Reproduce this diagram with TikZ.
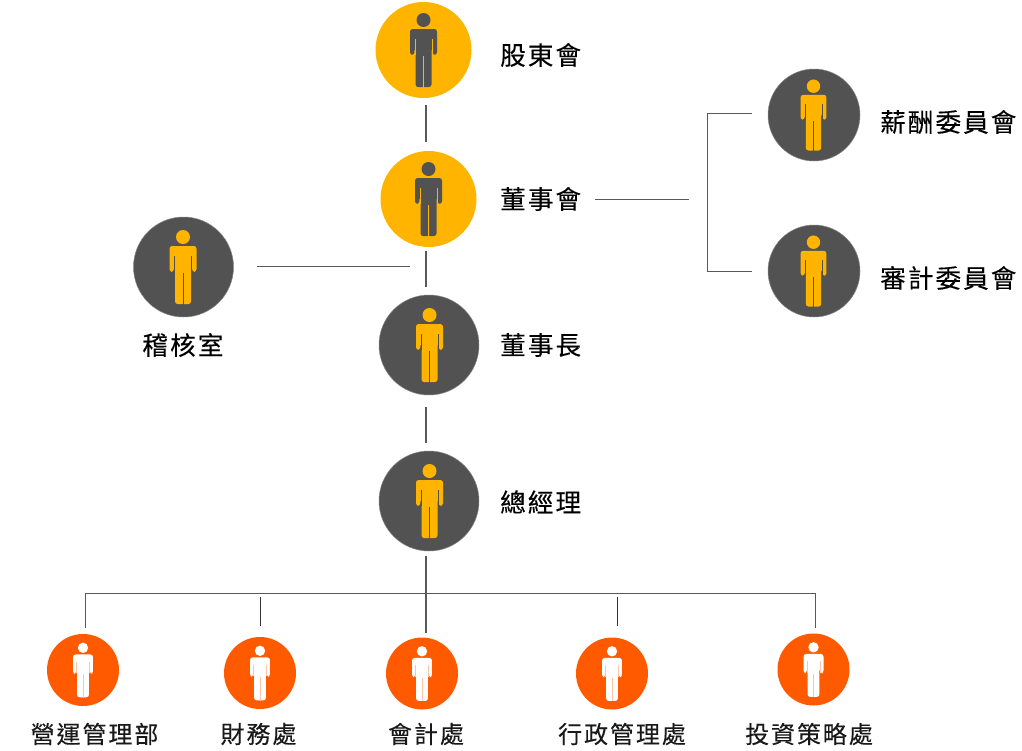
\documentclass[tikz,border=0pt]{standalone}
\usepackage{fontspec}
\newfontfamily\cjkbig[LetterSpace=8,FakeBold=0.25]{Noto Sans CJK TC}
\newfontfamily\cjksmall[LetterSpace=8,FakeBold=0.2]{Noto Sans CJK TC}
\definecolor{amberc}{HTML}{FFB500}
\definecolor{darkc}{HTML}{525252}
\definecolor{orangec}{HTML}{FF5A00}
\definecolor{linec}{HTML}{595959}
\tikzset{
  x=1pt,y=-1pt,
  disc/.style={circle,inner sep=0pt,minimum size=#1},
  amberdisc/.style={disc=#1,fill=amberc},
  darkdisc/.style={disc=#1,fill=darkc,draw=darkc!70!white,line width=0.5pt},
  orangedisc/.style={disc=#1,fill=orangec},
  biglabel/.style={inner sep=0pt,font=\cjkbig\fontsize{25.6}{26}\selectfont,text=black},
  smalllabel/.style={inner sep=0pt,font=\cjksmall\fontsize{24}{24}\selectfont,text=black!90},
  conn/.style={draw=linec,line width=1.2pt},
  connthin/.style={draw=black!80,line width=1pt},
  connfaint/.style={draw=linec,line width=0.9pt},
}
% person figure: #1 centre, #2 scale (1 = disc radius 48), #3 colour, #4 gap colour
\newcommand{\personfig}[4]{%
  \begin{scope}[shift={(#1)},scale=#2]
    \fill[#3] (0,-30) circle[radius=7];
    \fill[#3,rounded corners=2.6pt] (-13.5,4.8) -- (-13.5,-21) -- (13.5,-21) -- (13.5,4.8) -- (9.2,4.8) -- (9,-2) -- (8,-2)
       -- (8,37) -- (-8,37) -- (-8,-2) -- (-9,-2) -- (-9.2,4.8) -- cycle;
    \draw[#4,line width=0.7pt] (0,6) -- (0,37.5);
    \draw[#4,line width=0.6pt] (-8.7,-11) -- (-8.7,4.5);
    \draw[#4,line width=0.6pt] (8.7,-11) -- (8.7,4.5);
  \end{scope}}
\begin{document}
\begin{tikzpicture}
\useasboundingbox (0,0) rectangle (1022,750);
% discs
\node[amberdisc=96] (gudong) at (423.5,50) {};
\node[amberdisc=96] (dongshihui) at (428.5,199) {};
\node[darkdisc=100] (dongshizhang) at (429,345) {};
\node[darkdisc=100] (zongjingli) at (429,501) {};
\node[darkdisc=100] (jihe) at (183.5,267) {};
\node[darkdisc=92] (xinchou) at (814,115) {};
\node[darkdisc=92] (shenji) at (814,271) {};
\node[orangedisc=72] (yingyun) at (83,670) {};
\node[orangedisc=72] (caiwu) at (260,673) {};
\node[orangedisc=72] (kuaiji) at (422,673.5) {};
\node[orangedisc=72] (xingzheng) at (612,673.5) {};
\node[orangedisc=72] (touzi) at (813.5,669.5) {};
% figures
\personfig{423.5,50}{1}{darkc}{amberc}
\personfig{428.5,199}{1}{darkc}{amberc}
\personfig{429.5,345}{1}{amberc}{darkc}
\personfig{429.5,501}{1}{amberc}{darkc}
\personfig{183,267}{1}{amberc}{darkc}
\personfig{813.5,115}{0.96}{amberc}{darkc}
\personfig{813.5,271}{0.96}{amberc}{darkc}
\personfig{83,670}{0.74}{white}{orangec!35!white}
\personfig{260,673}{0.74}{white}{orangec!35!white}
\personfig{422,673.5}{0.74}{white}{orangec!35!white}
\personfig{612,673.5}{0.74}{white}{orangec!35!white}
\personfig{813.5,669.5}{0.74}{white}{orangec!35!white}
% labels
\node[biglabel,anchor=west] (tgudong) at (500,55) {股東會};
\node[biglabel,anchor=west] (tdongshihui) at (500,199) {董事會};
\node[biglabel,anchor=west] (tdongshizhang) at (500,345) {董事長};
\node[biglabel,anchor=west] (tzongjingli) at (500,502) {總經理};
\node[biglabel] (tjihe) at (183,345) {稽核室};
\node[biglabel,anchor=west] (txinchou) at (880,122) {薪酬委員會};
\node[biglabel,anchor=west] (tshenji) at (880,278) {審計委員會};
\node[smalllabel] (tyingyun) at (94.5,734) {營運管理部};
\node[smalllabel] (tcaiwu) at (258.5,734) {財務處};
\node[smalllabel] (tkuaiji) at (426,734) {會計處};
\node[smalllabel] (txingzheng) at (622,734) {行政管理處};
\node[smalllabel] (ttouzi) at (809,734) {投資策略處};
% connector end points
\coordinate (a1) at (426,105); \coordinate (a2) at (426,142);
\coordinate (b1) at (426,251); \coordinate (b2) at (426,287);
\coordinate (c1) at (426,407); \coordinate (c2) at (426,443);
\coordinate (d1) at (426,556); \coordinate (d2) at (426,633);
\coordinate (e1) at (257,266); \coordinate (e2) at (410,266);
\coordinate (f1) at (595,199); \coordinate (f2) at (689,199);
\coordinate (g1) at (752,113); \coordinate (g2) at (707,113);
\coordinate (g3) at (707,271); \coordinate (g4) at (752,271);
\coordinate (h1) at (85,628);  \coordinate (h2) at (85,593);
\coordinate (h3) at (815,593); \coordinate (h4) at (815,628);
\coordinate (i1) at (260,597); \coordinate (i2) at (260,626);
\coordinate (j1) at (617,597); \coordinate (j2) at (617,626);
% connectors
\draw[conn] (a1) -- (a2);
\draw[conn] (b1) -- (b2);
\draw[conn] (c1) -- (c2);
\draw[connfaint] (e1) -- (e2);
\draw[connfaint] (f1) -- (f2);
\draw[connfaint] (g1) -- (g2) -- (g3) -- (g4);
\draw[connfaint] (h1) -- (h2) -- (h3) -- (h4);
\draw[conn,line width=1.5pt] (d1) -- (d2);
\draw[connthin] (i1) -- (i2);
\draw[connthin] (j1) -- (j2);
\end{tikzpicture}
\end{document}
